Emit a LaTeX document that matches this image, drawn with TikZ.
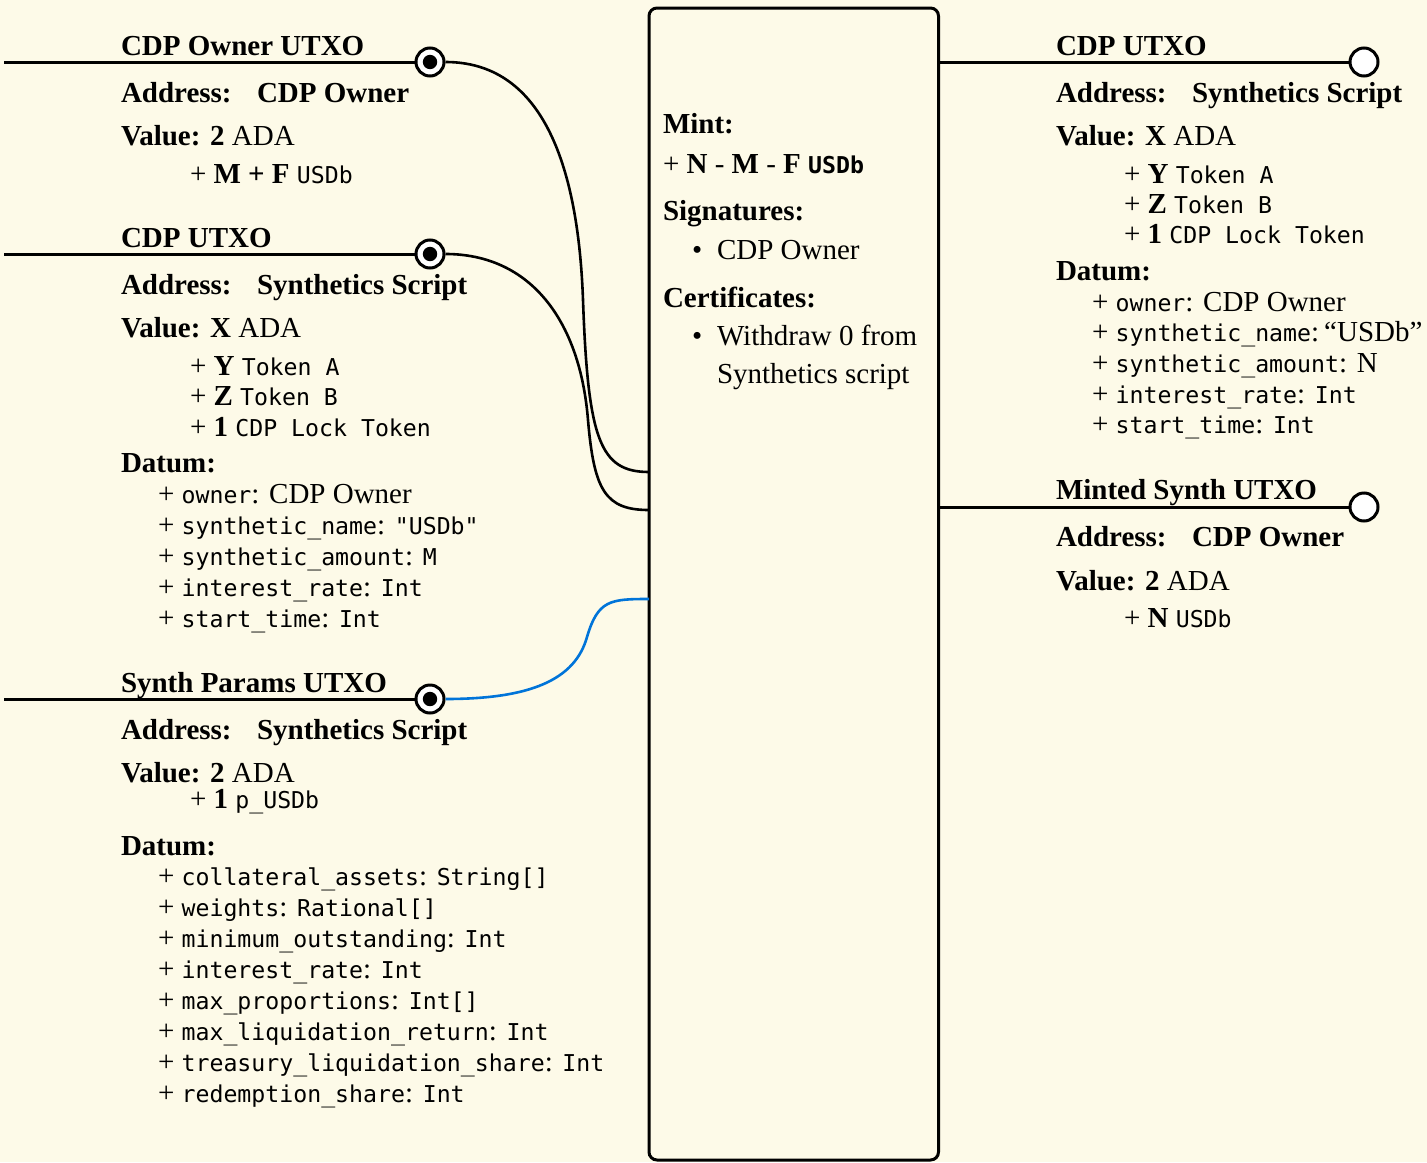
\documentclass[tikz,border=0pt]{standalone}
\usepackage{fontspec}
\setmainfont{Liberation Serif}
\setmonofont{DejaVu Sans Mono}[Scale=0.8]
\newcommand\mono[1]{{\ttfamily #1}}
\definecolor{paper}{HTML}{FDFAE8}
\definecolor{refblue}{HTML}{0074D9}
\tikzset{
  every node/.style={font=\fontsize{29}{34}\selectfont},
  txt/.style={anchor=base west, inner sep=0pt, outer sep=0pt},
  hd/.style={txt, font=\fontsize{29}{34}\selectfont\bfseries},
  wire/.style={line width=3pt},
  link/.style={line width=2.6pt},
  inport/.style={circle, draw, line width=3pt, fill=white, minimum size=28pt, inner sep=0pt,
    path picture={\fill[black] (path picture bounding box.center) circle (7.2pt);}},
  outport/.style={circle, draw, line width=3pt, fill=white, minimum size=28pt, inner sep=0pt},
  txbox/.style={draw, line width=3pt, rounded corners=8pt, minimum width=289.5pt,
    minimum height=1152pt, inner sep=0pt},
}
\begin{document}
\begin{tikzpicture}[x=1pt, y=-1pt]
\fill[paper] (0,0) rectangle (1427,1162);
\useasboundingbox (0,0) rectangle (1427,1162);

% transaction box
\node[txbox] (tx) at (793.75,584) {};

% input ports
\node[inport] (c1) at (430,62) {};
\node[inport] (c2) at (430,254) {};
\node[inport] (c3) at (430,699) {};
% output ports
\node[outport] (r1) at (1364,62) {};
\node[outport] (r2) at (1364,507) {};

% loose ends of the input wires
\coordinate (s1) at (4,62);
\coordinate (s2) at (4,254);
\coordinate (s3) at (4,699);
% entry points on the transaction box
\coordinate (in1) at (649,472);
\coordinate (in2) at (649,510);
\coordinate (in3) at (649,599);

\draw[wire] (s1) -- (c1.west);
\draw[wire] (s2) -- (c2.west);
\draw[wire] (s3) -- (c3.west);
\draw[wire] (tx.east |- r1) -- (r1.west);
\draw[wire] (tx.east |- r2) -- (r2.west);

\draw[link] (c1.east) .. controls (540,62) and (578,160) .. (583,300)
  .. controls (588,440) and (600,472) .. (in1);
\draw[link] (c2.east) .. controls (530,254) and (580,320) .. (588,420)
  .. controls (594,490) and (605,510) .. (in2);
\draw[link, refblue] (c3.east) .. controls (530,699) and (575,680) .. (587,637)
  .. controls (598,600) and (610,599) .. (in3);

% ---- CDP Owner UTXO (input)
\node[hd] (a1t) at (121,55) {CDP Owner UTXO};
\node[hd] (a1a) at (121,102) {Address:};
\node[hd] (a1av) at (257,102) {CDP Owner};
\node[txt] (a1v) at (121,145) {\textbf{Value: 2} ADA};
\node[txt] (a1v1) at (190,183) {+ \textbf{M + F} \mono{USDb}};

% ---- CDP UTXO (input)
\node[hd] (a2t) at (121,247) {CDP UTXO};
\node[hd] (a2a) at (121,294) {Address:};
\node[hd] (a2av) at (257,294) {Synthetics Script};
\node[txt] (a2v) at (121,337) {\textbf{Value: X} ADA};
\node[txt] (a2v1) at (190,375) {+ \textbf{Y} \mono{Token A}};
\node[txt] (a2v2) at (190,405.5) {+ \textbf{Z} \mono{Token B}};
\node[txt] (a2v3) at (190,436) {+ \textbf{1} \mono{CDP Lock Token}};
\node[hd] (a2d) at (121,472) {Datum:};
\node[txt] (a2d1) at (158,503) {+ \mono{owner}: CDP Owner};
\node[txt] (a2d2) at (158,534) {+ \mono{synthetic\_name}: \mono{"USDb"}};
\node[txt] (a2d3) at (158,565) {+ \mono{synthetic\_amount}: \mono{M}};
\node[txt] (a2d4) at (158,596) {+ \mono{interest\_rate}: \mono{Int}};
\node[txt] (a2d5) at (158,627) {+ \mono{start\_time}: \mono{Int}};

% ---- Synth Params UTXO (reference input)
\node[hd] (a3t) at (121,692) {Synth Params UTXO};
\node[hd] (a3a) at (121,739) {Address:};
\node[hd] (a3av) at (257,739) {Synthetics Script};
\node[txt] (a3v) at (121,782) {\textbf{Value: 2} ADA};
\node[txt] (a3v1) at (190,808.5) {+ \textbf{1} \mono{p\_USDb}};
\node[hd] (a3d) at (121,855) {Datum:};
\node[txt] (a3d1) at (158,885.5) {+ \mono{collateral\_assets}: \mono{String[]}};
\node[txt] (a3d2) at (158,916.5) {+ \mono{weights}: \mono{Rational[]}};
\node[txt] (a3d3) at (158,947.5) {+ \mono{minimum\_outstanding}: \mono{Int}};
\node[txt] (a3d4) at (158,978.5) {+ \mono{interest\_rate}: \mono{Int}};
\node[txt] (a3d5) at (158,1009.5) {+ \mono{max\_proportions}: \mono{Int[]}};
\node[txt] (a3d6) at (158,1040.5) {+ \mono{max\_liquidation\_return}: \mono{Int}};
\node[txt] (a3d7) at (158,1071.5) {+ \mono{treasury\_liquidation\_share}: \mono{Int}};
\node[txt] (a3d8) at (158,1102.5) {+ \mono{redemption\_share}: \mono{Int}};

% ---- transaction body
\node[hd] (m1) at (663,133) {Mint:};
\node[txt] (m2) at (663,173) {+ \textbf{N} - \textbf{M} - \textbf{F} \mono{\bfseries USDb}};
\node[hd] (m3) at (663,220) {Signatures:};
\node[txt] (m4b) at (692,259) {•};
\node[txt] (m4) at (717,259) {CDP Owner};
\node[hd] (m5) at (663,307) {Certificates:};
\node[txt] (m6b) at (692,345) {•};
\node[txt] (m6) at (717,345) {Withdraw 0 from};
\node[txt] (m7) at (717,383) {Synthetics script};

% ---- CDP UTXO (output)
\node[hd] (o1t) at (1056,55) {CDP UTXO};
\node[hd] (o1a) at (1056,102) {Address:};
\node[hd] (o1av) at (1192,102) {Synthetics Script};
\node[txt] (o1v) at (1056,145) {\textbf{Value: X} ADA};
\node[txt] (o1v1) at (1124,183) {+ \textbf{Y} \mono{Token A}};
\node[txt] (o1v2) at (1124,213) {+ \textbf{Z} \mono{Token B}};
\node[txt] (o1v3) at (1124,243.5) {+ \textbf{1} \mono{CDP Lock Token}};
\node[hd] (o1d) at (1056,280) {Datum:};
\node[txt] (o1d1) at (1092,311) {+ \mono{owner}: CDP Owner};
\node[txt] (o1d2) at (1092,341.5) {+ \mono{synthetic\_name}:\hspace{5pt}“USDb”};
\node[txt] (o1d3) at (1092,372) {+ \mono{synthetic\_amount}: N};
\node[txt] (o1d4) at (1092,403) {+ \mono{interest\_rate}: \mono{Int}};
\node[txt] (o1d5) at (1092,433.5) {+ \mono{start\_time}: \mono{Int}};

% ---- Minted Synth UTXO (output)
\node[hd] (o2t) at (1056,499) {Minted Synth UTXO};
\node[hd] (o2a) at (1056,546) {Address:};
\node[hd] (o2av) at (1192,546) {CDP Owner};
\node[txt] (o2v) at (1056,590) {\textbf{Value: 2} ADA};
\node[txt] (o2v1) at (1124,627) {+ \textbf{N} \mono{USDb}};
\end{tikzpicture}
\end{document}
